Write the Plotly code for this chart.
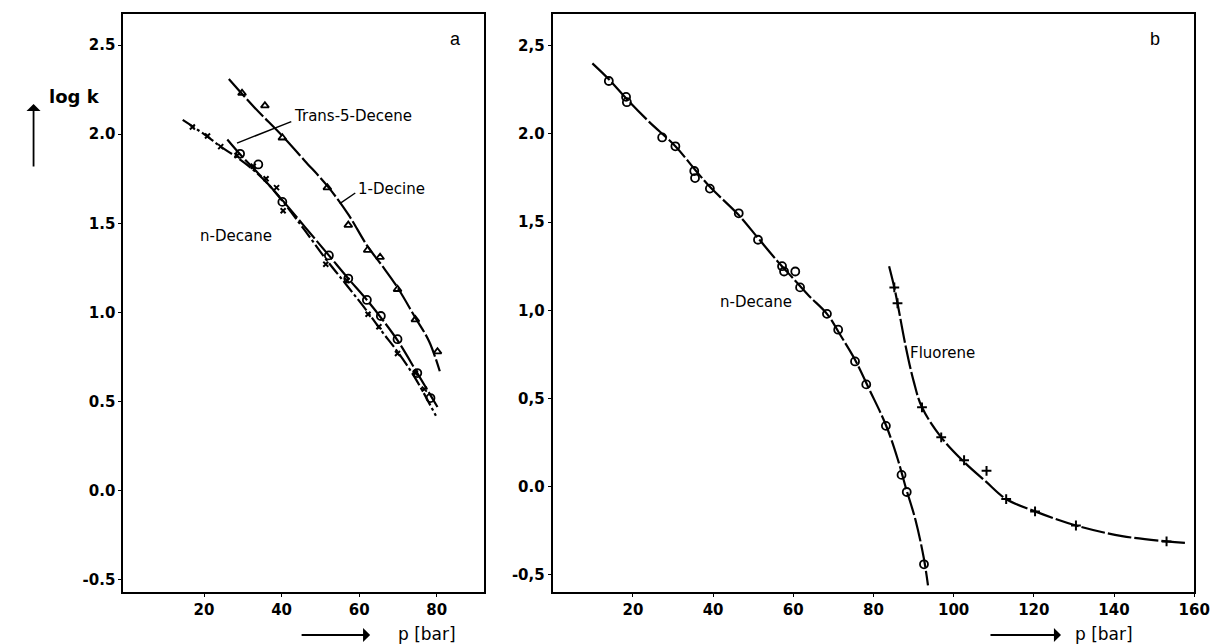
import plotly.graph_objects as go

# ---------------- Panel a data (log k vs p [bar]) ----------------
decine_p = [29.8, 35.7, 40.2, 51.8, 57.2, 62.2, 65.4, 69.9, 74.5, 80.2]
decine_logk = [2.23, 2.16, 1.98, 1.70, 1.49, 1.35, 1.31, 1.13, 0.96, 0.78]
decine_line_p = [26.4, 33.0, 40.2, 46.0, 51.8, 57.2, 62.2, 66.0, 69.9, 74.5, 78.0, 80.8]
decine_line_logk = [2.31, 2.15, 1.99, 1.85, 1.71, 1.55, 1.37, 1.26, 1.14, 0.97, 0.84, 0.67]

trans_p = [29.3, 34.0, 40.2, 52.2, 57.2, 62.0, 65.6, 69.9, 75.0, 78.4]
trans_logk = [1.89, 1.83, 1.62, 1.32, 1.19, 1.07, 0.98, 0.85, 0.66, 0.52]
trans_line_p = [26.0, 30.0, 34.0, 40.2, 46.0, 52.2, 57.2, 62.0, 66.0, 70.0, 75.0, 80.2]
trans_line_logk = [1.97, 1.87, 1.78, 1.63, 1.48, 1.32, 1.19, 1.07, 0.96, 0.84, 0.66, 0.47]

ndec_a_p = [17.0, 20.9, 24.3, 28.5, 32.7, 36.0, 38.7, 40.4, 51.4, 56.9, 62.3, 65.1, 69.9, 74.5, 76.8]
ndec_a_logk = [2.04, 1.99, 1.93, 1.88, 1.82, 1.75, 1.70, 1.57, 1.27, 1.18, 0.99, 0.92, 0.77, 0.66, 0.57]
ndec_a_line_p = [14.5, 20.0, 24.3, 28.5, 32.7, 36.5, 40.4, 46.0, 51.4, 56.9, 62.3, 66.0, 69.9, 74.5, 79.8]
ndec_a_line_logk = [2.08, 2.00, 1.93, 1.87, 1.80, 1.72, 1.62, 1.46, 1.30, 1.15, 1.00, 0.89, 0.78, 0.63, 0.42]

# ---------------- Panel b data ----------------
ndec_b_p = [14.0, 18.3, 18.5, 27.3, 30.6, 35.3, 35.5, 39.2, 46.4, 51.2, 57.2, 57.7, 60.5,
            61.7, 68.4, 71.2, 75.4, 78.2, 83.1, 87.0, 88.3, 92.6]
ndec_b_logk = [2.30, 2.21, 2.18, 1.98, 1.93, 1.79, 1.75, 1.69, 1.55, 1.40, 1.25, 1.22, 1.22,
               1.13, 0.98, 0.89, 0.71, 0.58, 0.345, 0.067, -0.03, -0.44]
ndec_b_line_p = [9.9, 14.0, 18.4, 24.0, 30.6, 35.4, 39.2, 46.4, 51.2, 56.0, 60.0, 64.0,
                 68.4, 72.0, 75.4, 79.0, 83.1, 86.0, 88.0, 90.5, 92.6, 93.6]
ndec_b_line_logk = [2.40, 2.31, 2.20, 2.07, 1.93, 1.80, 1.70, 1.54, 1.41, 1.28, 1.18, 1.08,
                    0.98, 0.85, 0.72, 0.55, 0.35, 0.16, 0.0, -0.19, -0.41, -0.56]

fluor_p = [85.2, 86.0, 92.1, 96.9, 102.6, 108.2, 113.1, 120.3, 130.5, 153.1]
fluor_logk = [1.13, 1.04, 0.45, 0.28, 0.15, 0.09, -0.07, -0.14, -0.22, -0.31]
fluor_line_p = [83.9, 85.2, 86.0, 88.0, 90.0, 92.1, 96.9, 102.6, 108.0, 113.1, 120.3, 130.5, 142.0, 153.1, 158.4]
fluor_line_logk = [1.25, 1.13, 1.04, 0.80, 0.60, 0.45, 0.28, 0.14, 0.03, -0.07, -0.14, -0.22, -0.28, -0.31, -0.32]

# label leader lines (panel a)
trans_leader_p = [42.5, 28.5]
trans_leader_logk = [2.07, 1.95]
decine_leader_p = [59.0, 55.0]
decine_leader_logk = [1.67, 1.61]

yticks_vals = [-0.5, 0.0, 0.5, 1.0, 1.5, 2.0, 2.5]
yticks_a = ["-0.5", "0.0", "0.5", "1.0", "1.5", "2.0", "2.5"]
yticks_b = ["-0,5", "0.0", "0,5", "1,0", "1,5", "2.0", "2,5"]
xticks_a = [20, 40, 60, 80]
xticks_b = [20, 40, 60, 80, 100, 120, 140, 160]

W, H = 1227, 644
FONT = "DejaVu Sans"
DASH = "24px,3px"

fig = go.Figure()

def line(x, y, xa, ya, dash=DASH, width=2.2):
    fig.add_trace(go.Scatter(x=x, y=y, mode="lines", xaxis=xa, yaxis=ya,
                             line=dict(color="black", width=width, dash=dash, shape="spline"),
                             showlegend=False, hoverinfo="skip"))

def marks(x, y, xa, ya, symbol, size, lw=1.8):
    fig.add_trace(go.Scatter(x=x, y=y, mode="markers", xaxis=xa, yaxis=ya,
                             marker=dict(symbol=symbol, size=size, color="black",
                                         line=dict(color="black", width=lw)),
                             showlegend=False))

# Panel a
line(decine_line_p, decine_line_logk, "x", "y")
marks(decine_p, decine_logk, "x", "y", "triangle-up-open", 7)
line(trans_line_p, trans_line_logk, "x", "y")
marks(trans_p, trans_logk, "x", "y", "circle-open", 8)
line(ndec_a_line_p, ndec_a_line_logk, "x", "y", dash="14px,3px,3px,3px")
fig.add_trace(go.Scatter(x=ndec_a_p, y=ndec_a_logk, mode="markers", xaxis="x", yaxis="y",
                         marker=dict(symbol="x-thin", size=5, line=dict(color="black", width=2)),
                         showlegend=False))
line(trans_leader_p, trans_leader_logk, "x", "y", dash="solid", width=1.4)
line(decine_leader_p, decine_leader_logk, "x", "y", dash="solid", width=1.4)

# Panel b
line(ndec_b_line_p, ndec_b_line_logk, "x2", "y2")
marks(ndec_b_p, ndec_b_logk, "x2", "y2", "circle-open", 8)
line(fluor_line_p, fluor_line_logk, "x2", "y2")
fig.add_trace(go.Scatter(x=fluor_p, y=fluor_logk, mode="markers", xaxis="x2", yaxis="y2",
                         marker=dict(symbol="cross-thin", size=7, line=dict(color="black", width=2)),
                         showlegend=False))

axis_common = dict(showline=True, linecolor="black", linewidth=2, mirror=True,
                   ticks="outside", ticklen=3, tickcolor="black", showgrid=False,
                   zeroline=False, tickfont=dict(family=FONT, size=15, color="black", weight="bold"))

fig.update_layout(
    width=W, height=H, margin=dict(l=0, r=0, t=0, b=0),
    paper_bgcolor="white", plot_bgcolor="white",
    xaxis=dict(domain=[125 / W, 490 / W], range=[-0.8, 92.1], tickvals=xticks_a,
               anchor="y", **axis_common),
    yaxis=dict(domain=[1 - 592 / H, 1 - 14 / H], range=[-0.568, 2.674], tickvals=yticks_vals,
               ticktext=yticks_a, anchor="x", **axis_common),
    xaxis2=dict(domain=[560 / W, 1210 / W], range=[0, 160], tickvals=xticks_b,
                anchor="y2", **axis_common),
    yaxis2=dict(domain=[1 - 592 / H, 1 - 14 / H], range=[-0.597, 2.68], tickvals=yticks_vals,
                ticktext=yticks_b, anchor="x2", **axis_common),
)

tf = dict(family=FONT, size=15, color="black")
ann = []
ann.append(dict(text="Trans-5-Decene", x=42.7, y=2.10, xref="x", yref="y", xanchor="left",
                yanchor="middle", showarrow=False, font=tf))
ann.append(dict(text="1-Decine", x=59.3, y=1.69, xref="x", yref="y", xanchor="left",
                yanchor="middle", showarrow=False, font=tf))
ann.append(dict(text="n-Decane", x=28.2, y=1.43, xref="x", yref="y", xanchor="center",
                yanchor="middle", showarrow=False, font=tf))
ann.append(dict(text="n-Decane", x=50.7, y=1.05, xref="x2", yref="y2", xanchor="center",
                yanchor="middle", showarrow=False, font=tf))
ann.append(dict(text="Fluorene", x=88.7, y=0.76, xref="x2", yref="y2", xanchor="left",
                yanchor="middle", showarrow=False, font=tf))
# panel letters
ann.append(dict(text="a", x=462 / W, y=1 - 27 / H, xref="paper", yref="paper",
                showarrow=False, font=dict(family="Liberation Sans", size=18, color="black")))
ann.append(dict(text="b", x=1177 / W, y=1 - 27 / H, xref="paper", yref="paper",
                showarrow=False, font=dict(family="Liberation Sans", size=18, color="black")))
# y-axis title with arrow
ann.append(dict(text="log k", x=48 / W, y=1 - 84 / H, xref="paper", yref="paper",
                showarrow=False, font=dict(family=FONT, size=18, color="black", weight="bold")))
ann.append(dict(text="", x=34 / W, y=1 - 104 / H, xref="paper", yref="paper",
                showarrow=True, ax=0, ay=64, arrowhead=1, arrowsize=1.3, arrowwidth=1.8,
                arrowcolor="black"))
# x-axis titles with arrows
for x_tail, x_head, x_text in [(305, 375, 433), (1003, 1075, 1150)]:
    ann.append(dict(text="", x=x_head / W, y=1 - 635 / H, xref="paper", yref="paper",
                    showarrow=True, ax=-(x_head - x_tail), ay=0, arrowhead=1, arrowsize=1.3,
                    arrowwidth=1.8, arrowcolor="black"))
    ann.append(dict(text="p [bar]", x=x_text / W, y=0, xref="paper", yref="paper",
                    yanchor="bottom", yshift=-2, showarrow=False,
                    font=dict(family=FONT, size=17, color="black")))
fig.update_layout(annotations=ann)

fig.write_html("out.html")
